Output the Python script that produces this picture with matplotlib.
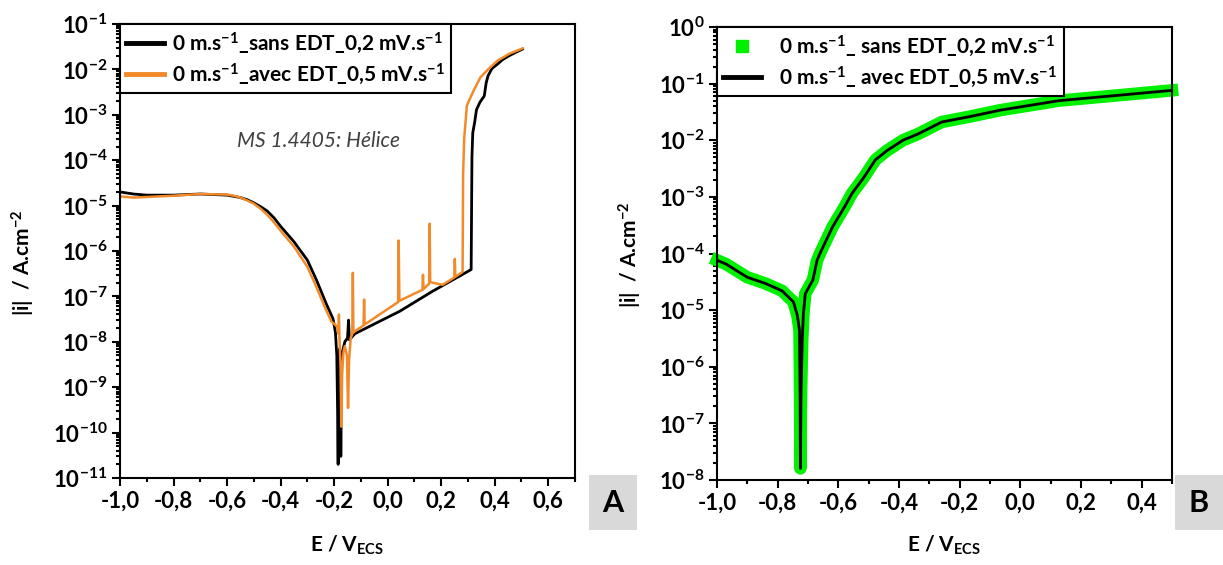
import numpy as np
import matplotlib
matplotlib.use("Agg")
import matplotlib.pyplot as plt
from matplotlib.lines import Line2D
from matplotlib.patches import Rectangle
from matplotlib.ticker import FixedLocator, LogLocator, FuncFormatter, MultipleLocator

plt.rcParams['font.family'] = ['Lato', 'DejaVu Sans']
plt.rcParams['mathtext.fontset'] = 'custom'
plt.rcParams['mathtext.rm'] = 'Lato:bold'
plt.rcParams['mathtext.bf'] = 'Lato:bold'
plt.rcParams['mathtext.it'] = 'Lato:bold:italic'

# --- panel A : MS 1.4405 Hélice ---
e_sans = [-1.00, -0.95, -0.90, -0.80, -0.70, -0.60, -0.575, -0.55, -0.525, -0.50,
          -0.475, -0.45, -0.425, -0.40, -0.35, -0.30, -0.266, -0.23, -0.204, -0.195,
          -0.190, -0.187, -0.185, -0.183, -0.180, -0.177, -0.175, -0.172, -0.160, -0.150,
          -0.146, -0.143, -0.123, 0.045, 0.168, 0.312, 0.315, 0.318, 0.325, 0.332,
          0.345, 0.361, 0.368, 0.375, 0.39, 0.41, 0.43, 0.454, 0.48, 0.504]
i_sans = [2.0e-5, 1.8e-5, 1.7e-5, 1.7e-5, 1.8e-5, 1.7e-5, 1.6e-5, 1.5e-5, 1.35e-5, 1.15e-5,
          9.5e-6, 7.6e-6, 5.4e-6, 3.5e-6, 1.6e-6, 6.3e-7, 2.3e-7, 7e-8, 3.2e-8, 1.6e-8,
          5e-9, 3e-10, 2e-11, 3e-9, 7e-9, 5e-9, 3e-11, 5e-9, 1e-8, 1.2e-8,
          3e-8, 1.1e-8, 1.5e-8, 4.7e-8, 1.3e-7, 3.9e-7, 1.2e-4, 4e-4, 6.8e-4, 1.3e-3,
          1.9e-3, 2.6e-3, 5e-3, 7.2e-3, 1.05e-2, 1.3e-2, 1.65e-2, 2.0e-2, 2.4e-2, 2.8e-2]

e_avec = [-1.00, -0.95, -0.90, -0.80, -0.70, -0.60, -0.575, -0.55, -0.525, -0.50,
          -0.475, -0.45, -0.425, -0.40, -0.35, -0.30, -0.266, -0.23, -0.21, -0.19,
          -0.184, -0.182, -0.180, -0.176, -0.173, -0.170, -0.165, -0.160, -0.152, -0.148,
          -0.144, -0.138, -0.132, -0.130, -0.128, -0.123, -0.090, -0.088, -0.086, 0.039,
          0.041, 0.044, 0.130, 0.132, 0.134, 0.155, 0.157, 0.159, 0.168, 0.205,
          0.249, 0.251, 0.253, 0.275, 0.280, 0.282, 0.286, 0.296, 0.318, 0.346,
          0.375, 0.41, 0.454, 0.504]
i_avec = [1.6e-5, 1.5e-5, 1.55e-5, 1.65e-5, 1.8e-5, 1.75e-5, 1.65e-5, 1.5e-5, 1.3e-5, 1.1e-5,
          8.6e-6, 6.3e-6, 4.3e-6, 2.8e-6, 1.25e-6, 4.5e-7, 1.6e-7, 5e-8, 2.8e-8, 2.2e-8,
          1.5e-8, 4e-8, 1.2e-8, 3e-9, 1.35e-10, 2e-9, 6e-9, 8e-9, 5e-9, 3.5e-10,
          4e-9, 1.2e-8, 1.5e-8, 3.3e-7, 1.6e-8, 1.7e-8, 2.3e-8, 8.5e-8, 2.4e-8, 7.5e-8,
          1.7e-6, 8e-8, 1.4e-7, 3e-7, 1.45e-7, 1.9e-7, 4e-6, 2.1e-7, 2e-7, 1.8e-7,
          2.6e-7, 6.7e-7, 2.7e-7, 3.3e-7, 3.5e-7, 5e-5, 3e-4, 1.6e-3, 3.1e-3, 6.6e-3,
          1.0e-2, 1.55e-2, 2.2e-2, 2.9e-2]

# --- panel B ---
e_b = [-1.00, -0.97, -0.90, -0.84, -0.786, -0.748, -0.735, -0.728, -0.726, -0.725,
       -0.723, -0.719, -0.715, -0.709, -0.684, -0.67, -0.657, -0.619, -0.58, -0.555,
       -0.516, -0.478, -0.439, -0.387, -0.336, -0.259, -0.169, -0.066, 0.127, 0.32,
       0.50]
i_b_sans = [7.6e-5, 6.5e-5, 3.8e-5, 2.95e-5, 2.2e-5, 1.4e-5, 8e-6, 4.4e-6, 3e-7, 1.6e-8,
            3e-7, 3e-6, 8.7e-6, 1.95e-5, 3.4e-5, 7.6e-5, 1.1e-4, 2.95e-4, 6.6e-4, 1.15e-3,
            2.2e-3, 4.5e-3, 6.6e-3, 1.0e-2, 1.3e-2, 2.1e-2, 2.6e-2, 3.4e-2, 5.0e-2, 6.2e-2,
            7.6e-2]
i_b_avec = i_b_sans

lab_a = [r"0 m.s$^{-1}$_sans EDT_0,2 mV.s$^{-1}$",
         r"0 m.s$^{-1}$_avec EDT_0,5 mV.s$^{-1}$"]
lab_b = [r"0 m.s$^{-1}$_ sans EDT_0,2 mV.s$^{-1}$",
         r"0 m.s$^{-1}$_ avec EDT_0,5 mV.s$^{-1}$"]

orange = '#F28A2A'
green = '#00F000'
W, H = 1223, 565

fig = plt.figure(figsize=(W / 100, H / 100), dpi=100)
axA = fig.add_axes([120 / W, 1 - 478 / H, 455 / W, 454 / H])
axB = fig.add_axes([717 / W, 1 - 480 / H, 455 / W, 453 / H])


def comma(v, pos):
    return ('%.1f' % (round(v, 1) + 0.0)).replace('.', ',')


def pow10(v, pos):
    return r'$\mathbf{10^{%d}}$' % int(round(np.log10(v)))


def style(ax, ylo, yhi, xlo, xhi, xticks):
    ax.set_yscale('log')
    ax.set_ylim(ylo, yhi)
    ax.set_xlim(xlo, xhi)
    ax.xaxis.set_major_locator(FixedLocator(xticks))
    ax.xaxis.set_minor_locator(MultipleLocator(0.1))
    ax.xaxis.set_major_formatter(FuncFormatter(comma))
    ax.yaxis.set_major_locator(LogLocator(base=10, numticks=20))
    ax.yaxis.set_minor_locator(LogLocator(base=10, subs=np.arange(2, 10), numticks=20))
    ax.yaxis.set_major_formatter(FuncFormatter(pow10))
    ax.tick_params(which='both', direction='out', width=1.5, top=False, right=False)
    ax.tick_params(which='major', length=6, labelsize=16, pad=3)
    ax.tick_params(which='minor', length=3)
    for lbl in ax.get_xticklabels():
        lbl.set_fontweight('bold')
    for s in ax.spines.values():
        s.set_linewidth(1.5)


def legend(ax, handles, labels, pad):
    leg = ax.legend(handles, labels, loc='upper left', bbox_to_anchor=(0.0, 1.0),
                    borderaxespad=0, fontsize=15, handlelength=1.8, handletextpad=pad,
                    fancybox=False, edgecolor='black', framealpha=1,
                    labelspacing=0.3, borderpad=0.3)
    leg.get_frame().set_linewidth(1.5)
    for t in leg.get_texts():
        t.set_fontweight('bold')


axA.plot(e_sans, i_sans, color='black', lw=2)
axA.plot(e_avec, i_avec, color=orange, lw=1.8)
style(axA, 1e-11, 1e-1, -1.0, 0.7, np.arange(-1.0, 0.61, 0.2))
axA.text(-0.26, 10 ** -3.58, 'MS 1.4405: Hélice', style='italic', fontsize=15,
         color='#404040', ha='center', va='center')
legend(axA, [Line2D([], [], color='black', lw=3.5), Line2D([], [], color=orange, lw=3.5)],
       lab_a, 0.4)

axB.plot(e_b, i_b_sans, color=green, lw=9, solid_joinstyle='round',
         solid_capstyle='projecting', clip_on=False)
axB.plot(e_b, i_b_avec, color='black', lw=2)
style(axB, 1e-8, 1e0, -1.0, 0.5, np.arange(-1.0, 0.41, 0.2))
legend(axB, [Line2D([], [], color=green, marker='s', ms=9, ls='none'),
             Line2D([], [], color='black', lw=3.5)], lab_b, 0.9)

# axis titles
for xc in [(120 + 575) / 2, (717 + 1172) / 2]:
    fig.text(xc / W, 1 - 545 / H, r'E / V$_{\mathbf{ECS}}$', fontsize=15, fontweight='bold',
             ha='center', va='center')
for xc, yc in [(23, 263), (630, 255)]:
    fig.text(xc / W, 1 - yc / H, r'|i|  / A.cm$^{-2}$', fontsize=15, fontweight='bold',
             rotation=90, ha='center', va='center')

# panel letters
for x0, letter in [(589, 'A'), (1175, 'B')]:
    fig.add_artist(Rectangle((x0 / W, 1 - 530 / H), 48 / W, 55 / H,
                             transform=fig.transFigure, facecolor='#d9d9d9', edgecolor='none'))
    fig.text((x0 + 24) / W, 1 - 503 / H, letter, fontsize=22, fontweight='bold',
             ha='center', va='center')

fig.savefig('out.png', dpi=100)
